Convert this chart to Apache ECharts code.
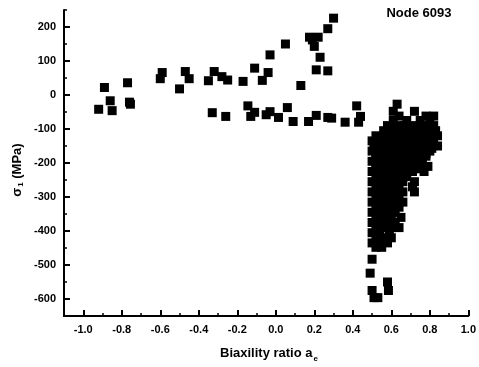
<!DOCTYPE html>
<html>
<head>
<meta charset="utf-8">
<script src="https://cdn.jsdelivr.net/npm/echarts@6/dist/echarts.min.js"></script>
<style>html,body{margin:0;padding:0;background:#fff;}#c{width:479px;height:367px;}</style>
</head>
<body>
<div id="c"></div>
<script>
// Tick labels
var xTickValues = [-1.0, -0.8, -0.6, -0.4, -0.2, 0.0, 0.2, 0.4, 0.6, 0.8, 1.0];
var yTickValues = [-600, -500, -400, -300, -200, -100, 0, 100, 200];

// Left scattered points (a_e < -0.2)
var leftPoints = [
  [-0.92, -42], [-0.89, 22], [-0.86, -17], [-0.85, -46], [-0.77, 36], [-0.76, -21], [-0.755, -27],
  [-0.60, 48], [-0.59, 66], [-0.50, 18], [-0.47, 69], [-0.45, 48], [-0.35, 42], [-0.33, -52],
  [-0.32, 69], [-0.28, 54], [-0.25, 44], [-0.26, -63]
];
// Upper branch (positive stress)
var upperPoints = [
  [-0.17, 40], [-0.11, 79], [-0.07, 43], [-0.04, 66], [-0.03, 118], [0.05, 150], [0.13, 28],
  [0.175, 170], [0.19, 162], [0.22, 170], [0.20, 143], [0.23, 111], [0.21, 74], [0.27, 71],
  [0.27, 195], [0.30, 226]
];
// Lower branch (slightly negative stress)
var lowerPoints = [
  [-0.145, -32], [-0.13, -63], [-0.11, -51], [-0.05, -58], [-0.03, -49], [0.014, -66], [0.06, -37],
  [0.09, -78], [0.17, -78], [0.21, -60], [0.27, -66], [0.29, -68], [0.36, -80], [0.42, -32],
  [0.44, -63], [0.43, -80]
];
// Dense cluster near a_e = 0.5 .. 0.85
var clusterPoints = [
  [0.63,-27],
  [0.61,-48],[0.72,-48],
  [0.64,-62],[0.78,-62],[0.82,-62],
  [0.61,-75],[0.68,-75],[0.75,-75],[0.80,-75],
  [0.58,-90],[0.63,-90],[0.67,-90],[0.72,-90],[0.77,-90],[0.82,-90],
  [0.56,-105],[0.60,-105],[0.65,-105],[0.69,-105],[0.74,-105],[0.79,-105],[0.83,-105],
  [0.52,-120],[0.56,-120],[0.61,-120],[0.66,-120],[0.70,-120],[0.75,-120],[0.80,-120],[0.84,-120],
  [0.50,-135],[0.54,-135],[0.58,-135],[0.63,-135],[0.67,-135],[0.72,-135],[0.77,-135],[0.81,-135],
  [0.51,-150],[0.55,-150],[0.60,-150],[0.64,-150],[0.69,-150],[0.74,-150],[0.78,-150],[0.84,-150],
  [0.50,-165],[0.54,-165],[0.58,-165],[0.62,-165],[0.67,-165],[0.71,-165],[0.76,-165],[0.80,-165],
  [0.52,-180],[0.56,-180],[0.60,-180],[0.65,-180],[0.69,-180],[0.73,-180],[0.78,-180],
  [0.50,-195],[0.54,-195],[0.58,-195],[0.62,-195],[0.67,-195],[0.71,-195],[0.76,-195],
  [0.52,-210],[0.56,-210],[0.60,-210],[0.64,-210],[0.69,-210],[0.74,-210],[0.79,-210],
  [0.50,-225],[0.54,-225],[0.58,-225],[0.62,-225],[0.66,-225],[0.71,-225],[0.77,-225],
  [0.52,-240],[0.56,-240],[0.60,-240],[0.64,-240],[0.68,-240],
  [0.50,-255],[0.54,-255],[0.58,-255],[0.62,-255],[0.66,-255],[0.72,-255],
  [0.52,-270],[0.56,-270],[0.60,-270],[0.64,-270],[0.71,-270],
  [0.50,-285],[0.54,-285],[0.58,-285],[0.62,-285],[0.66,-285],[0.72,-285],
  [0.52,-300],[0.56,-300],[0.60,-300],[0.64,-300],
  [0.50,-315],[0.54,-315],[0.58,-315],[0.62,-315],[0.66,-315],
  [0.52,-330],[0.56,-330],[0.60,-330],[0.64,-330],
  [0.50,-345],[0.54,-345],[0.58,-345],[0.62,-345],
  [0.52,-360],[0.56,-360],[0.60,-360],[0.65,-360],
  [0.50,-375],[0.54,-375],[0.58,-375],[0.62,-375],
  [0.52,-390],[0.56,-390],[0.60,-390],[0.64,-390],
  [0.50,-405],[0.54,-405],[0.59,-405],
  [0.52,-420],[0.56,-420],[0.60,-420],
  [0.50,-435],[0.54,-435],[0.58,-435],
  [0.52,-448],[0.55,-448],
  [0.50,-483],[0.49,-524],[0.58,-550],[0.50,-575],[0.585,-575],[0.51,-596],[0.53,-596]
];
// Further overlapping points inside the dense cluster
var clusterInnerPoints = [
  [0.60,-97],[0.65,-97],[0.70,-97],[0.75,-97],[0.80,-97],
  [0.58,-112],[0.63,-112],[0.68,-112],[0.72,-112],[0.77,-112],[0.81,-112],
  [0.54,-127],[0.60,-127],[0.65,-127],[0.70,-127],[0.74,-127],[0.79,-127],[0.82,-127],
  [0.52,-142],[0.56,-142],[0.61,-142],[0.65,-142],[0.70,-142],[0.75,-142],[0.80,-142],
  [0.53,-157],[0.57,-157],[0.62,-157],[0.66,-157],[0.71,-157],[0.76,-157],[0.81,-157],
  [0.52,-172],[0.56,-172],[0.60,-172],[0.65,-172],[0.69,-172],[0.74,-172],[0.78,-172],
  [0.54,-187],[0.58,-187],[0.63,-187],[0.67,-187],[0.71,-187],[0.75,-187],
  [0.52,-202],[0.56,-202],[0.61,-202],[0.66,-202],[0.71,-202],[0.76,-202],
  [0.54,-217],[0.58,-217],[0.62,-217],[0.67,-217],[0.73,-217],
  [0.54,-232],[0.58,-232],[0.62,-232],[0.66,-232]
];

var FONT = '"Liberation Sans", Arial, sans-serif';
var chart = echarts.init(document.getElementById('c'), null, {renderer: 'canvas'});
var sym = {type: 'scatter', symbol: 'rect', symbolSize: 9, itemStyle: {color: '#000', opacity: 1}, silent: true, animation: false};
chart.setOption({
  animation: false,
  backgroundColor: '#fff',
  grid: {left: 64, right: 10, top: 10, bottom: 51},
  xAxis: [
    {
      type: 'value', min: -1.1, max: 1.0,
      axisLine: {show: true, onZero: false, lineStyle: {color: '#000', width: 2}},
      axisTick: {show: true, inside: true, length: 6, lineStyle: {color: '#000', width: 2}, customValues: xTickValues},
      axisLabel: {customValues: xTickValues, color: '#000', fontFamily: FONT, fontWeight: 'bold', fontSize: 11, margin: 8,
        formatter: function (v) { return (+v).toFixed(1); }},
      splitLine: {show: false}
    },
    {
      type: 'value', min: -1.1, max: 1.0, interval: 0.1, position: 'bottom',
      axisLine: {show: false, onZero: false},
      axisTick: {show: true, inside: true, length: 3, lineStyle: {color: '#000', width: 1.5}},
      axisLabel: {show: false},
      splitLine: {show: false}
    }
  ],
  yAxis: [
    {
      type: 'value', min: -650, max: 250,
      axisLine: {show: true, onZero: false, lineStyle: {color: '#000', width: 2}},
      axisTick: {show: true, inside: true, length: 6, lineStyle: {color: '#000', width: 2}, customValues: yTickValues},
      axisLabel: {customValues: yTickValues, color: '#000', fontFamily: FONT, fontWeight: 'bold', fontSize: 11, margin: 8},
      splitLine: {show: false}
    },
    {
      type: 'value', min: -650, max: 250, interval: 50, position: 'left',
      axisLine: {show: false, onZero: false},
      axisTick: {show: true, inside: true, length: 3, lineStyle: {color: '#000', width: 1.5}},
      axisLabel: {show: false},
      splitLine: {show: false}
    }
  ],
  graphic: [
    {
      type: 'text', x: 17, y: 170, rotation: Math.PI / 2,
      style: {
        text: '{a|σ}{b|1}{a| (MPa)}',
        textAlign: 'center', textVerticalAlign: 'middle', fill: '#000',
        rich: {
          a: {fontFamily: FONT, fontWeight: 'bold', fontSize: 13, fill: '#000'},
          b: {fontFamily: FONT, fontWeight: 'bold', fontSize: 8, fill: '#000', padding: [8, 0, 0, 1]}
        }
      }
    },
    {
      type: 'text', x: 269, y: 353,
      style: {
        text: '{a|Biaxility ratio a}{b|e}',
        textAlign: 'center', textVerticalAlign: 'middle', fill: '#000',
        rich: {
          a: {fontFamily: FONT, fontWeight: 'bold', fontSize: 13, fill: '#000'},
          b: {fontFamily: FONT, fontWeight: 'bold', fontSize: 8, fill: '#000', padding: [12, 0, 0, 1]}
        }
      }
    },
    {
      type: 'text', x: 419, y: 13,
      style: {text: 'Node 6093', textAlign: 'center', textVerticalAlign: 'middle', fill: '#000',
        fontFamily: FONT, fontWeight: 'bold', fontSize: 13}
    }
  ],
  series: [
    Object.assign({data: leftPoints}, sym),
    Object.assign({data: upperPoints}, sym),
    Object.assign({data: lowerPoints}, sym),
    Object.assign({data: clusterPoints}, sym),
    Object.assign({data: clusterInnerPoints}, sym)
  ]
});
</script>
</body>
</html>
